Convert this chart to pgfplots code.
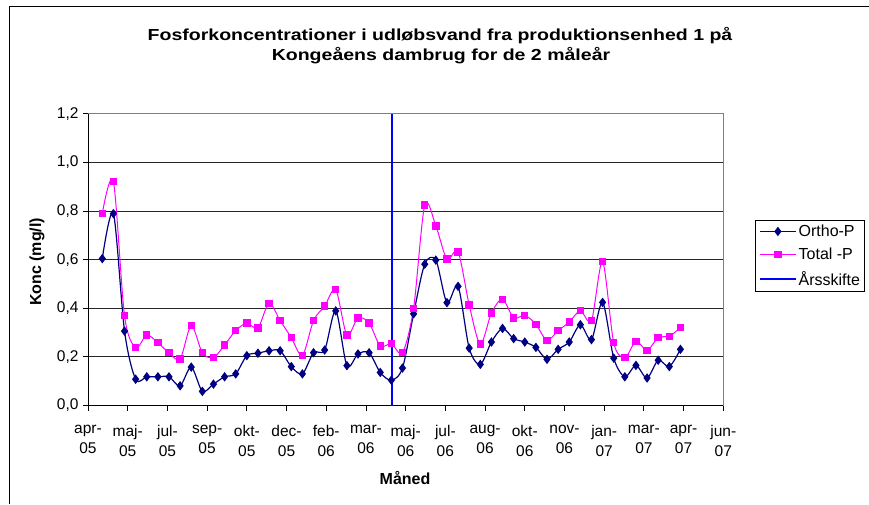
\documentclass[border=0pt]{standalone}
\usepackage{fontspec}
\setmainfont{Liberation Sans}
\newfontfamily\titlefont[FakeStretch=1.22]{Liberation Sans}
\usepackage{pgfplots}
\usepackage{pgfplotstable}
\pgfplotsset{compat=1.18}
\definecolor{navyP}{RGB}{0,0,128}
\definecolor{magP}{RGB}{255,0,255}
\definecolor{aarsblue}{RGB}{0,0,255}
\pgfplotstableread{
x ortho total
18 0.604 0.790
32 0.789 0.920
46 0.306 0.369
60 0.108 0.238
74 0.118 0.290
88 0.118 0.258
102 0.118 0.217
116 0.081 0.191
130 0.158 0.328
144 0.058 0.217
158 0.088 0.197
172 0.118 0.249
186 0.130 0.308
200 0.205 0.339
214 0.215 0.319
228 0.225 0.420
242 0.225 0.349
256 0.160 0.279
270 0.130 0.206
284 0.217 0.349
298 0.228 0.409
312 0.389 0.476
326 0.164 0.290
340 0.212 0.360
354 0.217 0.339
368 0.136 0.245
382 0.104 0.254
396 0.154 0.217
410 0.377 0.400
424 0.581 0.824
438 0.598 0.739
452 0.423 0.602
466 0.490 0.632
480 0.236 0.414
494 0.169 0.253
508 0.261 0.380
522 0.317 0.437
536 0.275 0.360
550 0.261 0.371
564 0.239 0.334
578 0.190 0.268
592 0.231 0.308
606 0.261 0.343
620 0.332 0.390
634 0.271 0.349
648 0.424 0.591
662 0.195 0.258
676 0.118 0.197
690 0.165 0.264
704 0.113 0.227
718 0.186 0.279
732 0.160 0.285
746 0.231 0.320
}\datatable
\begin{document}
\begin{tikzpicture}[x=1pt,y=1pt]
\useasboundingbox (0,0) rectangle (869,504);
\fill[white] (0,0) rectangle (869,504);
\draw[black, line width=1pt] (9.3,0) -- (9.3,497.3) -- (869,497.3);
\node[font=\titlefont\bfseries\fontsize{16}{20}\selectfont, anchor=base, inner sep=0pt] at (440,463.3)
  {Fosforkoncentrationer i udløbsvand fra produktionsenhed 1 på};
\node[font=\titlefont\bfseries\fontsize{16}{20}\selectfont, anchor=base, inner sep=0pt] at (441,443.3)
  {Kongeåens dambrug for de 2 måleår};
\begin{axis}[
  at={(88pt,98.5pt)}, anchor=south west,
  scale only axis, width=635.3pt, height=291.8pt,
  xmin=0, xmax=800, ymin=0, ymax=1.2,
  xtick={0,50,...,800},
  xticklabels={{apr-\\05},{maj-\\05},{jul-\\05},{sep-\\05},{okt-\\05},{dec-\\05},{feb-\\06},{mar-\\06},{maj-\\06},{jul-\\06},{aug-\\06},{okt-\\06},{nov-\\06},{jan-\\07},{mar-\\07},{apr-\\07},{jun-\\07}},
  ytick={0,0.2,0.4,0.6,0.8,1.0,1.2},
  /pgf/number format/assume math mode=true,
  yticklabel style={/pgf/number format/use comma, /pgf/number format/fixed, /pgf/number format/fixed zerofill, /pgf/number format/precision=1, xshift=-1pt},
  ticklabel style={font=\fontsize{15.5}{20.5}\selectfont, text=black},
  xticklabel style={align=center, yshift=-11pt},
  tick align=outside, major tick length=5pt,
  xtick pos=lower, ytick pos=left,
  tick style={black, line width=0.8pt},
  ymajorgrids, major grid style={black!85, line width=0.8pt},
  axis line style={draw=black!50, line width=0.8pt},
  xlabel={Måned}, ylabel={Konc (mg/l)},
  label style={font=\bfseries\fontsize{16}{18}\selectfont},
  xlabel style={at={(axis description cs:0.499,-0.2485)}, anchor=center},
  ylabel style={at={(axis description cs:-0.0803,0.492)}, anchor=center},
  legend style={at={(axis description cs:1.0503,0.6357)}, anchor=north west,
    draw=black, line width=0.8pt, font=\fontsize{16}{18}\selectfont,
    row sep=7pt, inner sep=3pt, nodes={inner sep=1.5pt}, cells={anchor=west}},
  legend image code/.code={\draw[mark repeat=2,mark phase=2] plot coordinates {(0pt,0pt)(18pt,0pt)(36pt,0pt)};},
  clip=false,
]
\draw[black, line width=0.8pt] (rel axis cs:0,0) -- (rel axis cs:0,1);
\draw[black, line width=0.8pt] (rel axis cs:0,0) -- (rel axis cs:1,0);
\addplot[navyP, line width=1.2pt, smooth, mark=diamond*, mark size=3.8pt, mark options={solid, fill=navyP}] table[x=x, y=ortho] {\datatable};
\addlegendentry{Ortho-P}
\addplot[magP, line width=1pt, smooth, mark=square*, mark size=3.2pt, mark options={solid, fill=magP}] table[x=x, y=total] {\datatable};
\addlegendentry{Total -P}
\addplot[aarsblue, line width=2.5pt] coordinates {(383,0) (383,1.2)};
\addlegendentry{Årsskifte}
\end{axis}
\end{tikzpicture}
\end{document}
